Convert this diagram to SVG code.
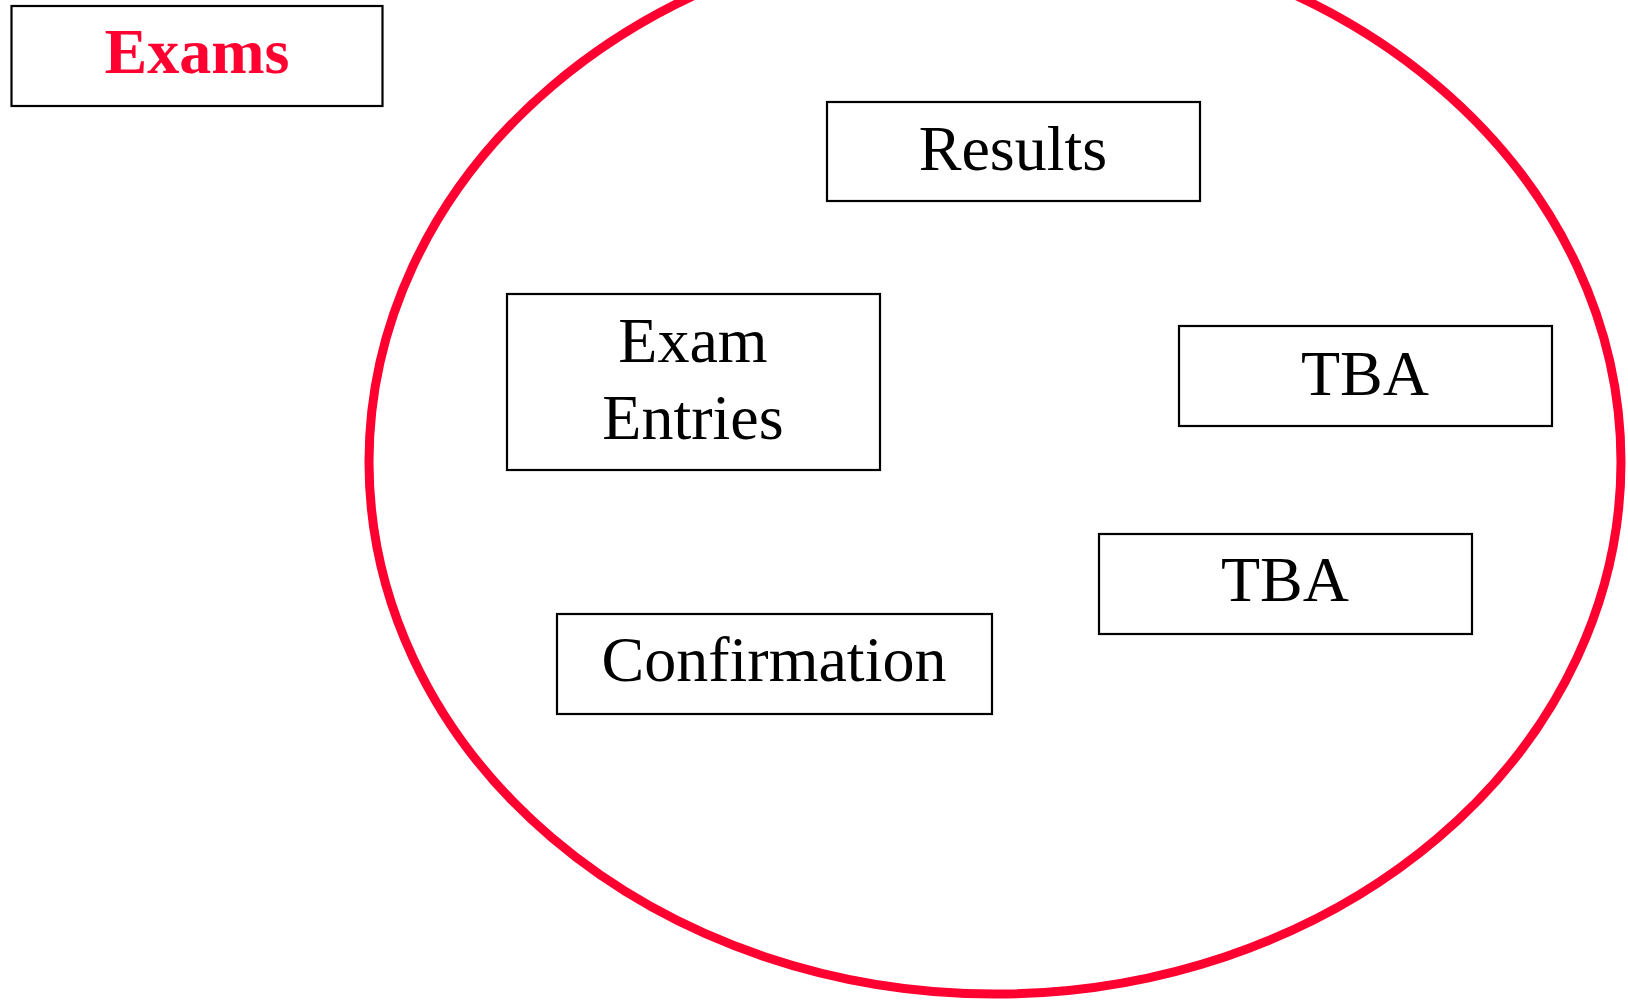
<svg xmlns="http://www.w3.org/2000/svg" width="1628" height="1001" viewBox="0 0 1628 1001">
<style>
.box{fill:#fff;stroke:#000;stroke-width:2.2}
.t{font-family:"Liberation Serif","Times New Roman",serif;font-size:64px;fill:#000;text-anchor:middle}
.title{font-weight:bold;fill:#FF0030}
</style>
<rect width="1628" height="1001" fill="#fff"/>
<g id="connectors"></g>
<g id="boundary">
<ellipse cx="995" cy="462" rx="626" ry="532" fill="none" stroke="#FF0030" stroke-width="9"/>
</g>
<g id="exams">
<rect class="box" x="11.5" y="6" width="371" height="100"/>
<text class="t title" x="197" y="73">Exams</text>
</g>
<g id="results">
<rect class="box" x="827" y="102" width="373" height="99"/>
<text class="t" x="1013" y="170">Results</text>
</g>
<g id="exam-entries">
<rect class="box" x="507" y="294" width="373" height="176"/>
<text class="t" x="693" y="362">Exam</text>
<text class="t" x="693" y="439">Entries</text>
</g>
<g id="tba1">
<rect class="box" x="1179" y="326" width="373" height="100"/>
<text class="t" x="1365" y="395">TBA</text>
</g>
<g id="tba2">
<rect class="box" x="1099" y="534" width="373" height="100"/>
<text class="t" x="1285" y="601">TBA</text>
</g>
<g id="confirmation">
<rect class="box" x="557" y="614" width="435" height="100"/>
<text class="t" x="774" y="681">Confirmation</text>
</g>
</svg>
